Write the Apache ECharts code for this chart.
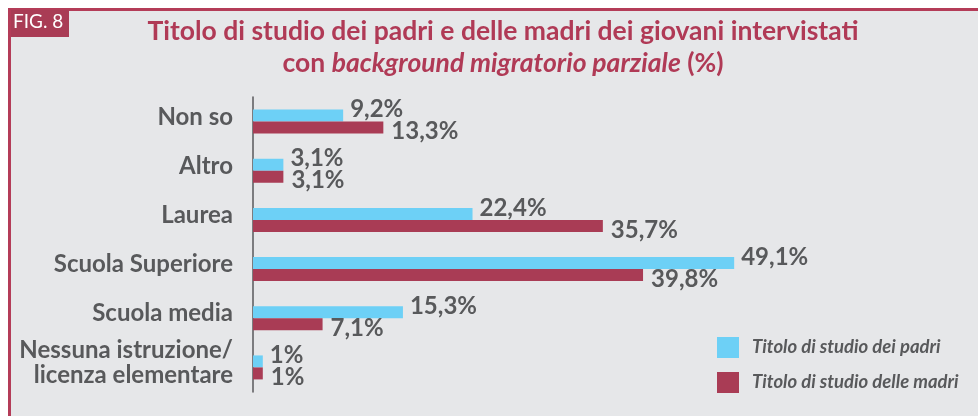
<!DOCTYPE html>
<html>
<head>
<meta charset="utf-8">
<script src="https://cdn.jsdelivr.net/npm/echarts@6/dist/echarts.min.js"></script>
<style>
  html, body { margin: 0; padding: 0; background: #ffffff; }
  #chart { width: 978px; height: 416px; }
</style>
</head>
<body>
<div id="chart"></div>
<script>
const categories = ['Non so', 'Altro', 'Laurea', 'Scuola Superiore', 'Scuola media', 'Nessuna istruzione/\nlicenza elementare'];
const padri = [9.2, 3.1, 22.4, 49.1, 15.3, 1];
const madri = [13.3, 3.1, 35.7, 39.8, 7.1, 1];
const seriesNames = ['Titolo di studio dei padri', 'Titolo di studio delle madri'];

const FONT = 'Lato, "Noto Sans", sans-serif';
const GREY = '#58595b';
const RED = '#a93c55';
const fmt = p => String(p.value).replace('.', ',') + '%';

const chart = echarts.init(document.getElementById('chart'), null, { renderer: 'canvas' });
chart.setOption({
  backgroundColor: '#ffffff',
  animation: false,
  textStyle: { fontFamily: FONT },
  graphic: [
    { type: 'rect', z: -10, shape: { x: 9.5, y: 9.5, width: 1000, height: 420 },
      style: { fill: '#e6e7e9', stroke: '#b43c58', lineWidth: 3 } },
    { type: 'rect', z: 10, shape: { x: 11, y: 10, width: 58, height: 27 }, style: { fill: RED } },
    { type: 'text', z: 11, left: 13, top: 12,
      style: { text: 'FIG. 8', fill: '#ffffff', font: '19px ' + FONT } }
  ],
  title: {
    left: 498, top: 10, textAlign: 'center',
    text: '{a|Titolo di studio dei padri e delle madri dei giovani intervistati}\n{a|con }{i|background migratorio parziale}{a| (%)}',
    textStyle: {
      rich: {
        a: { fontFamily: FONT, fontWeight: 'bold', fontSize: 26.5, color: '#b03a56', lineHeight: 32 },
        i: { fontFamily: FONT, fontWeight: 'bold', fontStyle: 'italic', fontSize: 26.5, color: '#b03a56', lineHeight: 32 }
      }
    }
  },
  legend: {
    orient: 'vertical', left: 712, top: 332, itemWidth: 22, itemHeight: 21, itemGap: 14,
    icon: 'rect', data: seriesNames,
    textStyle: { fontFamily: FONT, fontStyle: 'italic', fontWeight: 'bold', fontSize: 18.5, color: GREY, padding: [0, 0, 0, 8] }
  },
  grid: { left: 253, top: 97, width: 588, height: 295, containLabel: false },
  xAxis: { type: 'value', min: 0, max: 60, show: false },
  yAxis: {
    type: 'category', data: categories, inverse: true,
    axisLine: { show: true, lineStyle: { color: GREY, width: 1.5 } },
    axisTick: { show: false },
    axisLabel: {
      margin: 20, align: 'right',
      formatter: v => v.split('\n').map(s => '{l|' + s + '}').join('\n'),
      rich: { l: { fontFamily: FONT, fontWeight: 'bold', fontSize: 24, color: GREY, lineHeight: 25 } },
      padding: [0, 0, 9, 0]
    }
  },
  series: [
    { name: seriesNames[0], type: 'bar', data: padri, barWidth: 12, barGap: '0%',
      itemStyle: { color: '#6dd0f6' },
      label: { show: true, position: 'right', distance: 7, offset: [0, -6], formatter: fmt,
        fontFamily: FONT, fontWeight: 'bold', fontSize: 24, color: GREY } },
    { name: seriesNames[1], type: 'bar', data: madri, barWidth: 12,
      itemStyle: { color: RED },
      label: { show: true, position: 'right', distance: 8, offset: [0, 4], formatter: fmt,
        fontFamily: FONT, fontWeight: 'bold', fontSize: 24, color: GREY } }
  ]
});
</script>
</body>
</html>
